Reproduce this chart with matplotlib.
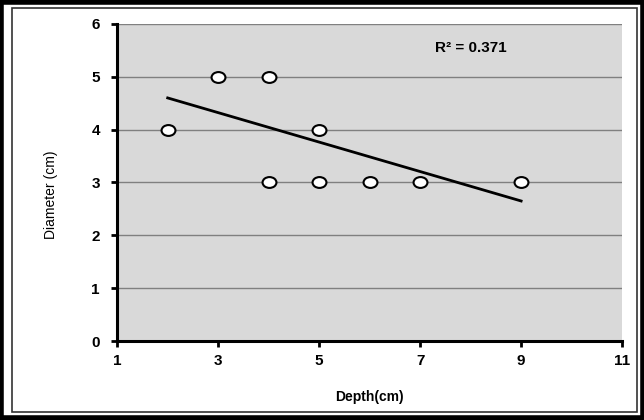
import matplotlib

matplotlib.use("Agg")
import matplotlib.pyplot as plt
from matplotlib.patches import Rectangle
from matplotlib.path import Path
from matplotlib.transforms import Affine2D

depth = [2, 3, 4, 5, 4, 5, 6, 7, 9]
diameter = [4, 5, 5, 4, 3, 3, 3, 3, 3]
trend_x = [2, 9]
trend_y = [4.6, 2.65]
x_ticks = [1, 3, 5, 7, 9, 11]
y_ticks = [0, 1, 2, 3, 4, 5, 6]

plt.rcParams["font.family"] = ["Liberation Sans", "DejaVu Sans"]

# slightly flattened circle, like the markers in the source chart
oval = Path.unit_circle().transformed(Affine2D().scale(1.0, 0.78))

figure = plt.figure(figsize=(6.44, 4.2), dpi=100)
axis = figure.add_axes([0.182, 0.188, 0.784, 0.755])
axis.set_facecolor("#d9d9d9")

for value in y_ticks[1:]:
    axis.axhline(value, color="#808080", linewidth=1.0, zorder=1)

axis.plot(trend_x, trend_y, color="black", linewidth=2.0, zorder=2)
axis.plot(depth, diameter, linestyle="none", marker=oval, markersize=10,
          markerfacecolor="white", markeredgecolor="black", markeredgewidth=1.5, zorder=3)

axis.text(8, 5.55, "R² = 0.371", ha="center", va="center", fontsize=11, fontweight="bold")

axis.set_xlim(1, 11)
axis.set_ylim(0, 6)
axis.set_xticks(x_ticks)
axis.set_yticks(y_ticks)
axis.tick_params(labelsize=11, width=2, length=4.5, direction="out")
axis.tick_params(axis="y", pad=8)
axis.tick_params(axis="x", pad=5)
for label in axis.get_xticklabels() + axis.get_yticklabels():
    label.set_fontweight("bold")
for side in ("top", "right"):
    axis.spines[side].set_visible(False)
for side in ("left", "bottom"):
    axis.spines[side].set_linewidth(2.2)

axis.set_xlabel("Depth(cm)", fontsize=10, fontweight="bold", labelpad=16)
axis.set_ylabel("Diameter (cm)", fontsize=10, labelpad=24)
axis.yaxis.label.set_y(0.46)

figure.patches.append(Rectangle((0.002, 0.004), 0.996, 0.992, transform=figure.transFigure,
                                fill=False, edgecolor="black", linewidth=4))
figure.patches.append(Rectangle((0.019, 0.019), 0.97, 0.962, transform=figure.transFigure,
                                fill=False, edgecolor="#333333", linewidth=1.2))

figure.savefig("out.png", dpi=100)
plt.close(figure)
